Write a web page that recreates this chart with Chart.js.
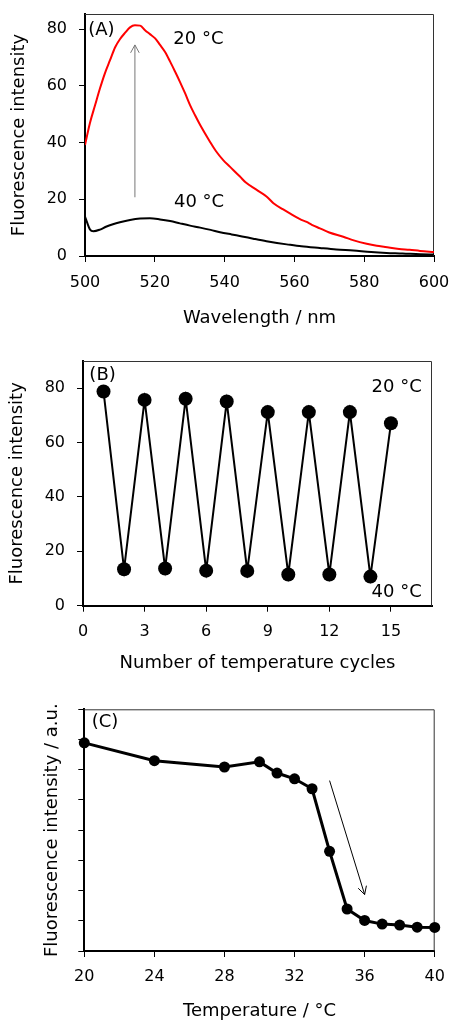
<!DOCTYPE html>
<html><head><meta charset="utf-8">
<script src="https://cdn.jsdelivr.net/npm/chart.js@4.4.0/dist/chart.umd.min.js"></script>
<style>
html,body{margin:0;padding:0;background:#fff;overflow:hidden;width:449px;height:1021px;}
.p{position:absolute;left:0;width:449px;}
</style></head><body>
<div class="p" style="top:0;height:340px"><canvas id="cA"></canvas></div>
<div class="p" style="top:340px;height:340px"><canvas id="cB"></canvas></div>
<div class="p" style="top:680px;height:350px"><canvas id="cC"></canvas></div>
<script>
// ---- Panel A data ----
const wavelength20C = [500,501.4,502.9,504.3,505.7,507.2,508.6,510,511.5,512.9,514.3,515.8,517.2,518.6,520.1,521.5,522.9,524.4,525.8,527.2,528.7,530.1,531.5,533,535.8,537.5,539.6,541.5,544.4,546,549.2,552,554,556.8,558.7,561.6,563.5,565,567.3,570,574,577,580.7,583.6,586,590,593,596,600];
const intensity20C = [39.1,46.8,53.2,59.1,64.4,69.1,73.5,76.4,78.7,80.6,81.3,81.2,79.6,78.2,76.7,74.4,72.0,68.5,65.0,61.4,57.3,53.2,49.7,46.2,40.3,37.0,33.8,31.5,28.0,26.0,23.3,21.0,18.6,16.4,15.0,13.0,12.0,11.0,9.75,8.3,6.8,5.5,4.3,3.6,3.2,2.5,2.2,1.8,1.4];
const wavelength40C = [500,500.7,501.4,502.4,504.3,506,508,510,512.9,515.8,518.6,521.5,524.4,527.2,530.1,533,536,538.7,542,545,548.2,552,555,557.8,562,567.3,572,576.9,582,586.4,591,596,600];
const intensity40C = [13.9,11.5,9.4,8.7,9.3,10.3,11.2,11.9,12.7,13.2,13.3,12.9,12.3,11.5,10.7,10.0,9.2,8.4,7.6,6.9,6.1,5.2,4.6,4.1,3.4,2.8,2.3,1.9,1.4,1.1,0.9,0.6,0.5];
const ticksA_x = [500,520,540,560,580,600];
const ticksA_y = [0,20,40,60,80];

// ---- Panel B data ----
const cycleNumber = [1,2,3,4,5,6,7,8,9,10,11,12,13,14,15];
const cycleIntensity = [78.8,13.4,75.7,13.7,76.1,12.9,75.1,12.8,71.2,11.5,71.2,11.5,71.2,10.7,67.1];
const ticksB_x = [0,3,6,9,12,15];
const ticksB_y = [0,20,40,60,80];

// ---- Panel C data ----
const temperature = [20,24,28,30,31,32,33,34,35,36,37,38,39,40];
const tempIntensity = [6.89,6.30,6.09,6.26,5.89,5.70,5.37,3.30,1.39,1.01,0.89,0.86,0.79,0.78];
const ticksC_x = [20,24,28,32,36,40];
const ticksC_y = [0,1,2,3,4,5,6,7,8];

const FONT = "'DejaVu Sans', sans-serif";
Chart.defaults.font.family = FONT;
Chart.defaults.color = '#000';
Chart.defaults.animation = false;

function xy(xs, ys){ return xs.map((x,i)=>({x:x, y:ys[i]})); }

function axis(o){
  return {
    type:'linear', min:o.min, max:o.max,
    afterBuildTicks: s => { s.ticks = o.ticks.map(v=>({value:v})); },
    afterFit: s => {
      if (s.isHorizontal()) s.height = o.size; else s.width = o.size;
      s.paddingLeft = s.paddingRight = s.paddingTop = s.paddingBottom = 0;
    },
    ticks:{ display:o.labels !== false, font:{size:16}, color:'#000', padding:o.tickPad },
    grid:{ drawOnChartArea:false, drawTicks:true, tickLength:6, tickColor:'#000', tickWidth:1 },
    border:{ display:true, color:'#000', width:2 },
    title:{ display:true, text:o.title, font:{size:18}, color:'#000', padding:o.titlePad }
  };
}

const frame = { id:'frame', beforeDatasetsDraw(chart){
  const {ctx, chartArea:a} = chart;
  ctx.save(); ctx.strokeStyle='#333'; ctx.lineWidth=1;
  ctx.beginPath(); ctx.moveTo(a.left, a.top+0.5); ctx.lineTo(a.right-0.5, a.top+0.5); ctx.lineTo(a.right-0.5, a.bottom); ctx.stroke();
  ctx.restore();
}};

function annot(texts, arrows){
  return { id:'annot', afterDatasetsDraw(chart){
    const ctx = chart.ctx, xs = chart.scales.x, ys = chart.scales.y;
    ctx.save();
    arrows.forEach(a => {
      const x1 = xs.getPixelForValue(a.from[0]), y1 = ys.getPixelForValue(a.from[1]);
      const x2 = xs.getPixelForValue(a.to[0]), y2 = ys.getPixelForValue(a.to[1]);
      const ang = Math.atan2(y2-y1, x2-x1), L = 9, w = 0.5;
      ctx.strokeStyle = a.color; ctx.lineWidth = 1;
      ctx.beginPath(); ctx.moveTo(x1,y1); ctx.lineTo(x2,y2);
      ctx.moveTo(x2 - L*Math.cos(ang-w), y2 - L*Math.sin(ang-w)); ctx.lineTo(x2,y2);
      ctx.lineTo(x2 - L*Math.cos(ang+w), y2 - L*Math.sin(ang+w));
      ctx.stroke();
    });
    ctx.fillStyle = '#000'; ctx.font = '18px ' + FONT; ctx.textBaseline = 'middle';
    texts.forEach(t => {
      ctx.textAlign = t.align || 'left';
      ctx.fillText(t.text, xs.getPixelForValue(t.at[0]), ys.getPixelForValue(t.at[1]));
    });
    ctx.restore();
  }};
}

const common = { responsive:true, maintainAspectRatio:false, animation:false,
  plugins:{ legend:{display:false}, tooltip:{enabled:false} } };

// Panel A
new Chart(document.getElementById('cA'), {
  type:'line',
  data:{ datasets:[
    { data:xy(wavelength40C, intensity40C), borderColor:'#000', borderWidth:2, pointRadius:0, cubicInterpolationMode:'monotone', fill:false },
    { data:xy(wavelength20C, intensity20C), borderColor:'#ff0000', borderWidth:2, pointRadius:0, cubicInterpolationMode:'monotone', fill:false }
  ]},
  options:Object.assign({}, common, {
    layout:{ padding:{ top:14, right:15, left:0, bottom:0 } },
    scales:{
      x: axis({min:500, max:600, ticks:ticksA_x, size:84, tickPad:11, title:'Wavelength / nm', titlePad:{top:0,bottom:11}}),
      y: axis({min:0, max:85.3, ticks:ticksA_y, size:85, tickPad:12, title:'Fluorescence intensity', titlePad:{top:9,bottom:0}})
    }
  }),
  plugins:[frame, annot(
    [{text:'(A)', at:[500.9,79.4]}, {text:'20 °C', at:[525.3,76.5]}, {text:'40 °C', at:[525.5,19.0]}],
    [{from:[514.3,20.7], to:[514.3,74.4], color:'#777'}]
  )]
});

// Panel B
new Chart(document.getElementById('cB'), {
  type:'line',
  data:{ datasets:[
    { data:xy(cycleNumber, cycleIntensity), borderColor:'#000', borderWidth:2, pointRadius:7, pointBackgroundColor:'#000', pointBorderWidth:0, tension:0, clip:false }
  ]},
  options:Object.assign({}, common, {
    layout:{ padding:{ top:21, right:17, left:0, bottom:0 } },
    scales:{
      x: axis({min:0, max:17, ticks:ticksB_x, size:74.3, tickPad:11, title:'Number of temperature cycles', titlePad:{top:0,bottom:6}}),
      y: axis({min:0, max:90, ticks:ticksB_y, size:83, tickPad:12, title:'Fluorescence intensity', titlePad:{top:7,bottom:0}})
    }
  }),
  plugins:[frame, annot(
    [{text:'(B)', at:[0.31,84.6]}, {text:'20 °C', at:[16.5,80.2], align:'right'}, {text:'40 °C', at:[16.5,4.9], align:'right'}],
    []
  )]
});

// Panel C
new Chart(document.getElementById('cC'), {
  type:'line',
  data:{ datasets:[
    { data:xy(temperature, tempIntensity), borderColor:'#000', borderWidth:3, pointRadius:5.5, pointBackgroundColor:'#000', pointBorderWidth:0, tension:0, clip:false }
  ]},
  options:Object.assign({}, common, {
    layout:{ padding:{ top:29.3, right:14.3, left:0, bottom:0 } },
    scales:{
      x: axis({min:20, max:40, ticks:ticksC_x, size:79, tickPad:10, title:'Temperature / °C', titlePad:{top:0,bottom:7.5}}),
      y: axis({min:0, max:8, ticks:ticksC_y, size:84.3, tickPad:12, labels:false, title:'Fluorescence intensity / a.u.', titlePad:{top:42,bottom:0}})
    }
  }),
  plugins:[frame, annot(
    [{text:'(C)', at:[20.42,7.57]}],
    [{from:[34,5.64], to:[36,1.87], color:'#000'}]
  )]
});
</script>
</body></html>
